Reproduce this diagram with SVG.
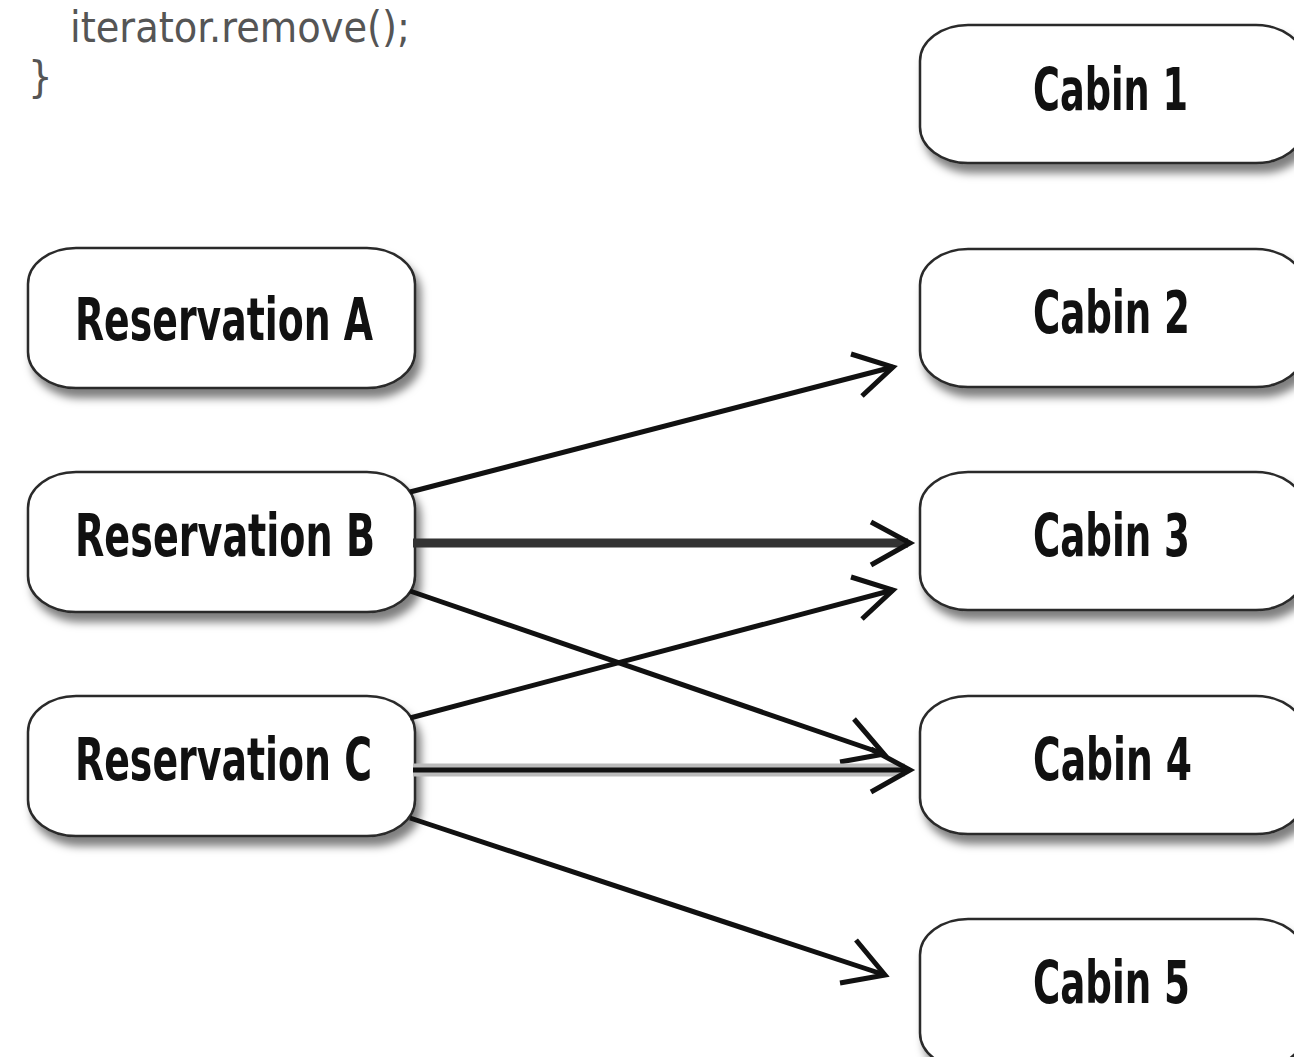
<svg xmlns="http://www.w3.org/2000/svg" width="1294" height="1057" viewBox="0 0 1294 1057">
<defs>
<style>
.box{fill:#fff;stroke:#2a2a2a;stroke-width:2.5;filter:url(#sh)}
.lbl{font-family:"DejaVu Sans Condensed","Liberation Sans Narrow","Liberation Sans",sans-serif;font-weight:bold;font-size:58px;fill:#111}
.code{font-family:"DejaVu Sans Condensed","Liberation Sans Narrow",sans-serif;font-size:43px;fill:#555}
.ln{stroke:#111;stroke-width:5;fill:none}
.hd{stroke:#111;stroke-width:5;fill:none;stroke-linejoin:miter}
</style>
<filter id="sh" x="-10%" y="-10%" width="130%" height="140%">
<feDropShadow dx="5" dy="9" stdDeviation="4" flood-color="#000" flood-opacity="0.5"/>
</filter>
</defs>
<rect width="1294" height="1057" fill="#fff"/>
<g id="code">
<text class="code" x="70" y="42" textLength="340" lengthAdjust="spacingAndGlyphs">iterator.remove();</text>
<text class="code" x="28" y="92">}</text>
</g>
<g id="resA"><rect class="box" x="28" y="248" width="387" height="140" rx="48" ry="36"/><text class="lbl" x="75" y="340" textLength="298" lengthAdjust="spacingAndGlyphs">Reservation A</text></g>
<g id="resB"><rect class="box" x="28" y="472" width="387" height="140" rx="48" ry="36"/><text class="lbl" x="75" y="556" textLength="300" lengthAdjust="spacingAndGlyphs">Reservation B</text></g>
<g id="resC"><rect class="box" x="28" y="696" width="387" height="140" rx="48" ry="36"/><text class="lbl" x="75" y="780" textLength="297" lengthAdjust="spacingAndGlyphs">Reservation C</text></g>
<g id="cab1"><rect class="box" x="920" y="25" width="384" height="138" rx="48" ry="36"/><text class="lbl" x="1033" y="110" textLength="155" lengthAdjust="spacingAndGlyphs">Cabin 1</text></g>
<g id="cab2"><rect class="box" x="920" y="249" width="384" height="138" rx="48" ry="36"/><text class="lbl" x="1033" y="333" textLength="157" lengthAdjust="spacingAndGlyphs">Cabin 2</text></g>
<g id="cab3"><rect class="box" x="920" y="472" width="384" height="138" rx="48" ry="36"/><text class="lbl" x="1033" y="556" textLength="157" lengthAdjust="spacingAndGlyphs">Cabin 3</text></g>
<g id="cab4"><rect class="box" x="920" y="696" width="384" height="138" rx="48" ry="36"/><text class="lbl" x="1033" y="780" textLength="159" lengthAdjust="spacingAndGlyphs">Cabin 4</text></g>
<g id="cab5"><rect class="box" x="920" y="919" width="384" height="150" rx="48" ry="36"/><text class="lbl" x="1033" y="1003" textLength="157" lengthAdjust="spacingAndGlyphs">Cabin 5</text></g>
<g id="connectors">
<line class="ln" x1="410" y1="492" x2="893" y2="367"/>
<polyline class="hd" points="851,354 893,367 862,396"/>
<line x1="413" y1="543" x2="908" y2="543" stroke="#333" stroke-width="9"/>
<polyline class="hd" points="871,522 910,543 871,565"/>
<line class="ln" x1="410" y1="591" x2="884" y2="754"/>
<polyline class="hd" points="854,719 884,754 840,762"/>
<line class="ln" x1="410" y1="718" x2="893" y2="590"/>
<polyline class="hd" points="851,577 893,590 862,619"/>
<line x1="413" y1="770" x2="905" y2="770" stroke="#bbb" stroke-width="13"/>
<line class="ln" x1="413" y1="770" x2="908" y2="770"/>
<polyline class="hd" points="871,749 910,770 871,792"/>
<line class="ln" x1="410" y1="818" x2="885" y2="975"/>
<polyline class="hd" points="856,940 885,975 840,983"/>
</g>
</svg>
